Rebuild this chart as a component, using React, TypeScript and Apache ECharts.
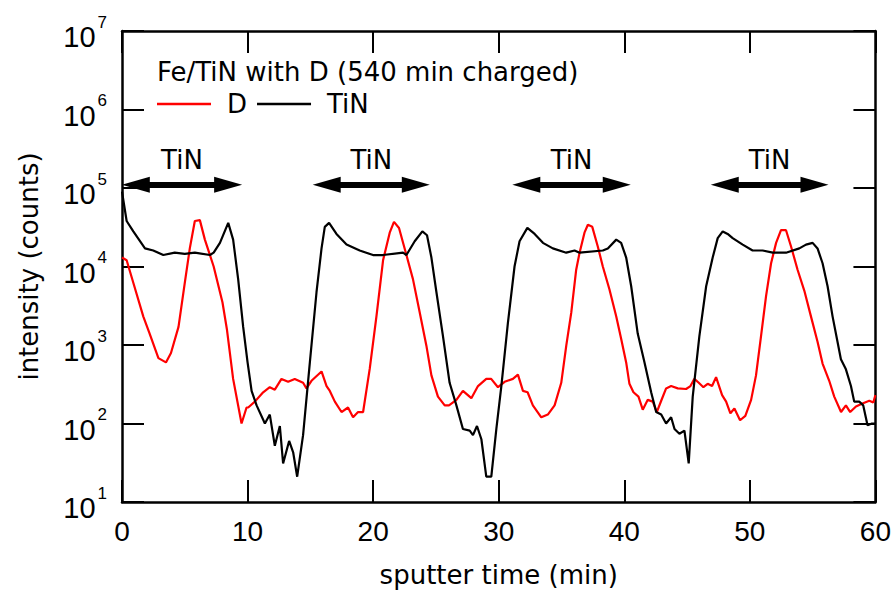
import React, { useEffect, useRef } from 'react';
import * as echarts from 'echarts';

const xTickLabels = ['0', '10', '20', '30', '40', '50', '60'];
const yExponents = ['1', '2', '3', '4', '5', '6', '7'];

const dSeries: [number, number][] = [
  [0, 13000], [0.37, 12000], [0.9, 6200], [1.7, 2300], [2.2, 1400], [2.9, 680], [3.5, 600], [3.9, 790],
  [4.5, 1700], [5.0, 6200], [5.4, 17000], [5.8, 38000], [6.2, 39000], [6.6, 22000], [7.3, 10000], [8.0, 3500],
  [8.35, 1600], [8.85, 370], [9.52, 100], [9.92, 160], [10.05, 160], [10.58, 190], [11.24, 250], [11.77, 290],
  [12.17, 270], [12.7, 370], [13.23, 340], [13.76, 370], [14.42, 330], [14.69, 280], [15.09, 350], [15.89, 460],
  [16.29, 300], [16.55, 260], [16.95, 190], [17.48, 140], [18.0, 160], [18.4, 120], [18.8, 140], [19.2, 140],
  [19.73, 500], [20.26, 2300], [20.79, 12000], [21.32, 27000], [21.66, 37000], [22.06, 31000], [22.65, 14000],
  [23.17, 6900], [23.71, 2600], [24.24, 980], [24.64, 410], [25.16, 220], [25.7, 170], [26.04, 170], [26.63, 200],
  [27.15, 260], [27.82, 210], [28.35, 300], [29.01, 370], [29.4, 370], [29.94, 290], [30.47, 340], [31.13, 370],
  [31.53, 420], [31.93, 260], [32.3, 250], [32.72, 170], [33.39, 120], [33.91, 130], [34.45, 170], [34.98, 330],
  [35.38, 980], [35.78, 2600], [36.17, 9100], [36.44, 15000], [36.83, 27000], [37.1, 34000], [37.45, 32000],
  [37.89, 18000], [38.29, 10000], [38.82, 5100], [39.36, 2300], [39.75, 1200], [40.15, 600], [40.41, 320],
  [40.73, 250], [41.13, 220], [41.47, 150], [41.87, 200], [42.27, 190], [42.59, 140], [42.94, 195], [43.33, 280],
  [43.73, 300], [44.26, 280], [44.92, 275], [45.27, 300], [45.58, 370], [45.93, 330], [46.3, 290], [46.64, 320],
  [46.99, 300], [47.31, 390], [47.79, 230], [48.11, 190], [48.45, 135], [48.77, 155], [49.22, 110], [49.64, 125],
  [50.1, 200], [50.49, 410], [50.89, 1300], [51.29, 4200], [51.69, 11000], [52.09, 20000], [52.48, 29000],
  [52.88, 29000], [53.28, 18000], [53.8, 9100], [54.34, 4900], [54.87, 2300], [55.39, 1100], [55.79, 580],
  [56.32, 350], [56.72, 220], [57.26, 140], [57.65, 170], [57.99, 140], [58.45, 165], [58.97, 180], [59.51, 195],
  [59.83, 185], [60.0, 230],
];

const tinSeries: [number, number][] = [
  [0, 90000], [0.37, 38000], [0.9, 28000], [1.83, 17000], [2.49, 16000], [3.29, 14000], [4.2, 15000], [5.0, 14500],
  [5.8, 15000], [7.0, 14000], [7.3, 15000], [7.8, 20000], [8.46, 36000], [8.85, 22000], [9.25, 6900], [9.65, 1700],
  [10.0, 600], [10.32, 260], [10.72, 170], [11.38, 100], [11.77, 130], [12.17, 52], [12.57, 93], [12.83, 31],
  [13.31, 60], [13.63, 43], [13.95, 21], [14.42, 71], [14.96, 600], [15.49, 4700], [15.89, 17000], [16.15, 32000],
  [16.49, 36000], [17.08, 26000], [17.88, 19000], [18.93, 16000], [19.99, 14000], [20.79, 14000], [22.38, 15000],
  [22.65, 14000], [23.31, 21000], [23.92, 28000], [24.29, 25000], [24.64, 13000], [25.04, 4700], [25.56, 1300],
  [26.09, 330], [26.63, 170], [27.15, 85], [27.69, 81], [27.95, 71], [28.27, 93], [28.62, 63], [29.01, 21],
  [29.41, 21], [29.81, 85], [30.21, 300], [30.73, 1900], [31.26, 10000], [31.66, 21000], [32.28, 31000],
  [32.86, 26000], [33.52, 20000], [34.31, 17000], [35.38, 15000], [36.04, 16000], [36.44, 15000], [38.29, 16000],
  [38.69, 17000], [39.36, 22000], [39.75, 20000], [40.15, 13000], [40.55, 5600], [41.07, 1400], [41.61, 600],
  [42.14, 250], [42.54, 140], [42.94, 130], [43.33, 100], [43.73, 120], [44.0, 85], [44.39, 74], [44.79, 81],
  [45.13, 31], [45.45, 220], [45.98, 1300], [46.52, 5600], [47.04, 13000], [47.44, 23000], [47.84, 28000],
  [48.23, 26000], [48.63, 23000], [49.43, 19000], [50.22, 16000], [51.02, 16000], [51.82, 15000], [52.88, 15000],
  [53.94, 17000], [54.47, 19000], [55.0, 20000], [55.39, 17000], [55.79, 11000], [56.19, 5600], [56.59, 2300],
  [56.98, 1100], [57.25, 660], [57.65, 490], [58.05, 300], [58.31, 190], [58.71, 190], [59.03, 170], [59.37, 95],
  [59.72, 100], [60.0, 100],
];

// TiN layer annotations: [start, end] in minutes (arrow tips), at a given intensity level
const tinArrowSpans: [number, number][] = [
  [0, 9.55], [15.2, 24.5], [31.1, 40.5], [46.9, 56.25],
];
const arrowLevel = 110000;
const arrowHeadLen = 1.1; // minutes, half of the arrow head length

const NUM_FONT = 'Liberation Sans';
const TXT_FONT = 'DejaVu Sans';

export default function App() {
  const ref = useRef<HTMLDivElement>(null);

  useEffect(() => {
    const chart = echarts.init(ref.current!, null, { renderer: 'svg' });
    const lineStyle = { color: '#000', width: 2.5 };
    const tickStyle = { color: '#000', width: 2 };

    chart.setOption({
      animation: false,
      grid: { left: 122, right: 17, top: 31, bottom: 90, containLabel: false },
      legend: {
        data: ['D', 'TiN'],
        left: 157,
        top: 91,
        padding: 0,
        icon: 'rect',
        itemWidth: 54,
        itemHeight: 2.5,
        itemGap: 10,
        selectedMode: false,
        textStyle: { fontFamily: TXT_FONT, fontSize: 26, color: '#000', padding: [0, 0, 0, 11] },
      },
      graphic: [
        {
          type: 'text',
          left: 157,
          top: 59,
          style: { text: 'Fe/TiN with D (540 min charged)', fontFamily: TXT_FONT, fontSize: 26, fill: '#000' },
        },
      ],
      xAxis: [
        {
          type: 'value', min: 0, max: 60, interval: 10, position: 'bottom',
          name: 'sputter time (min)', nameLocation: 'middle', nameGap: 60,
          nameTextStyle: { fontFamily: TXT_FONT, fontSize: 26, color: '#000' },
          axisLine: { show: true, onZero: false, lineStyle },
          axisTick: { show: true, inside: true, length: 22, lineStyle: tickStyle },
          axisLabel: {
            margin: 15, fontFamily: NUM_FONT, fontSize: 28, color: '#000',
            formatter: (_v: number, i: number) => xTickLabels[i],
          },
          splitLine: { show: false },
        },
        {
          type: 'value', min: 0, max: 60, interval: 10, position: 'top',
          axisLine: { show: true, onZero: false, lineStyle },
          axisTick: { show: true, inside: true, length: 22, lineStyle: tickStyle },
          axisLabel: { show: false },
          splitLine: { show: false },
        },
      ],
      yAxis: [
        {
          type: 'log', logBase: 10, min: 10, max: 10000000, interval: 1, position: 'left',
          name: 'intensity (counts)', nameLocation: 'middle', nameGap: 80,
          nameTextStyle: { fontFamily: TXT_FONT, fontSize: 26, color: '#000' },
          axisLine: { show: true, onZero: false, lineStyle },
          axisTick: { show: true, inside: true, length: 22, lineStyle: tickStyle },
          minorTick: { show: false },
          axisLabel: {
            margin: 15,
            formatter: (_v: number, i: number) => `{b|10}{s|${yExponents[i]}}`,
            rich: {
              b: { fontFamily: NUM_FONT, fontSize: 29, color: '#000', padding: [12, 0, 0, 0] },
              s: { fontFamily: NUM_FONT, fontSize: 17, color: '#000', verticalAlign: 'top', padding: [3, 0, 0, 2] },
            },
          },
          splitLine: { show: false },
        },
        {
          type: 'log', logBase: 10, min: 10, max: 10000000, interval: 1, position: 'right',
          axisLine: { show: true, onZero: false, lineStyle },
          axisTick: { show: true, inside: true, length: 22, lineStyle: tickStyle },
          axisLabel: { show: false },
          splitLine: { show: false },
        },
      ],
      series: [
        {
          name: 'D', type: 'line', xAxisIndex: 0, yAxisIndex: 0, data: dSeries,
          showSymbol: false, symbol: 'none', color: '#ff0000',
          lineStyle: { color: '#ff0000', width: 2.2 },
          emphasis: { disabled: true },
        },
        {
          name: 'TiN', type: 'line', xAxisIndex: 0, yAxisIndex: 0, data: tinSeries,
          showSymbol: false, symbol: 'none', color: '#000',
          lineStyle: { color: '#000', width: 2.2 },
          emphasis: { disabled: true },
          markLine: {
            silent: true,
            symbol: ['triangle', 'triangle'],
            symbolSize: [16, 28],
            lineStyle: { color: '#000', width: 6, type: 'solid' },
            itemStyle: { color: '#000' },
            emphasis: { disabled: true },
            label: {
              show: true, position: 'middle', formatter: 'TiN', distance: 12,
              fontFamily: TXT_FONT, fontSize: 26, color: '#000',
            },
            data: tinArrowSpans.map(([a, b]) => [
              { coord: [a + arrowHeadLen, arrowLevel] },
              { coord: [b - arrowHeadLen, arrowLevel] },
            ]),
          },
        },
      ],
    });

    return () => chart.dispose();
  }, []);

  return (
    <div
      ref={ref}
      style={{ position: 'fixed', left: 0, top: 0, width: 894, height: 593, background: '#fff' }}
    />
  );
}
